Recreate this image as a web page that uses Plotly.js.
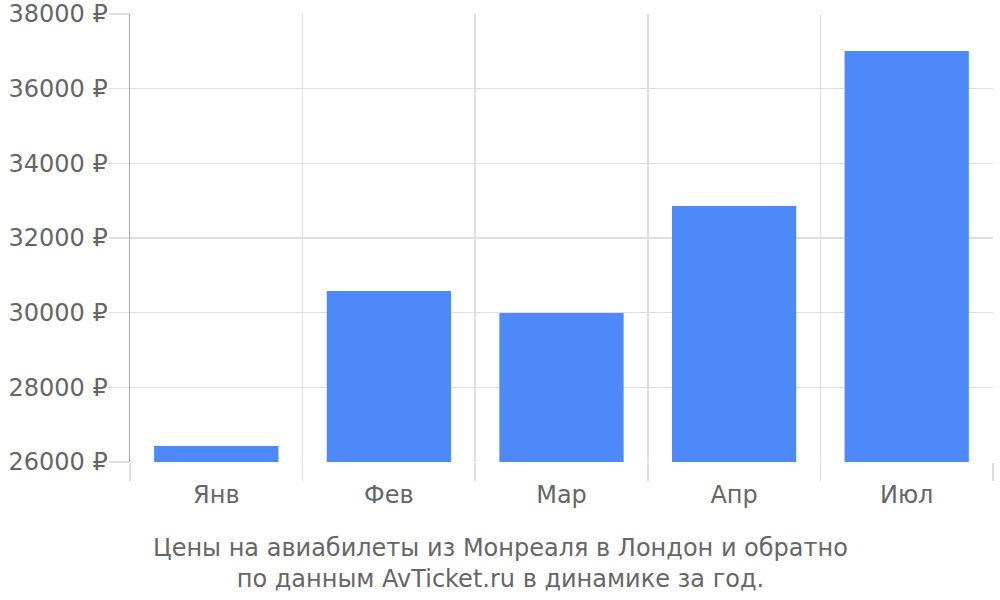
<!DOCTYPE html>
<html>
<head>
<meta charset="utf-8">
<script src="https://cdn.plot.ly/plotly-3.0.1.min.js"></script>
<style>
  html, body { margin: 0; padding: 0; background: #fff; }
  #chart { width: 1000px; height: 600px; }
</style>
</head>
<body>
<div id="chart"></div>
<script>
// Data
const months = ["Янв", "Фев", "Мар", "Апр", "Июл"];
const prices = [26430, 30580, 29990, 32860, 37010];

const titleLines = [
    "Цены на авиабилеты из Монреаля в Лондон и обратно",
    "по данным AvTicket.ru в динамике за год."
];

const textColor = "#666666";
const gridColor = "#dedede";

const trace = {
    type: "bar",
    x: months,
    y: prices,
    marker: { color: "#4d89f9" },
    hoverinfo: "skip"
};

const layout = {
    width: 1000,
    height: 600,
    margin: { l: 130, r: 7, t: 14, b: 138 },
    paper_bgcolor: "white",
    plot_bgcolor: "white",
    font: { family: "DejaVu Sans", size: 24, color: textColor },
    bargap: 0.28,
    showlegend: false,
    xaxis: {
        type: "category",
        tickson: "boundaries",
        ticks: "outside",
        ticklen: 18,
        tickcolor: gridColor,
        tickwidth: 1.5,
        ticklabelstandoff: 16,
        showgrid: true,
        gridcolor: gridColor,
        gridwidth: 1.5,
        showline: false,
        zeroline: false,
        tickfont: { size: 24, color: textColor }
    },
    yaxis: {
        range: [26000, 38000],
        dtick: 2000,
        tickformat: "d",
        ticksuffix: " ₽",
        ticks: "outside",
        ticklen: 20,
        tickcolor: gridColor,
        tickwidth: 1.5,
        ticklabelstandoff: -4,
        showgrid: true,
        gridcolor: gridColor,
        gridwidth: 1.5,
        showline: true,
        linecolor: "#a8a8a8",
        linewidth: 1.5,
        zeroline: false,
        tickfont: { size: 24, color: textColor }
    },
    annotations: [{
        xref: "paper",
        yref: "paper",
        x: (500 - 130) / 863,
        y: -0.157,
        xanchor: "center",
        yanchor: "top",
        showarrow: false,
        align: "center",
        text: titleLines.join("<br>"),
        font: { size: 24, color: textColor }
    }]
};

Plotly.newPlot("chart", [trace], layout, { displayModeBar: false, staticPlot: true });
</script>
</body>
</html>
